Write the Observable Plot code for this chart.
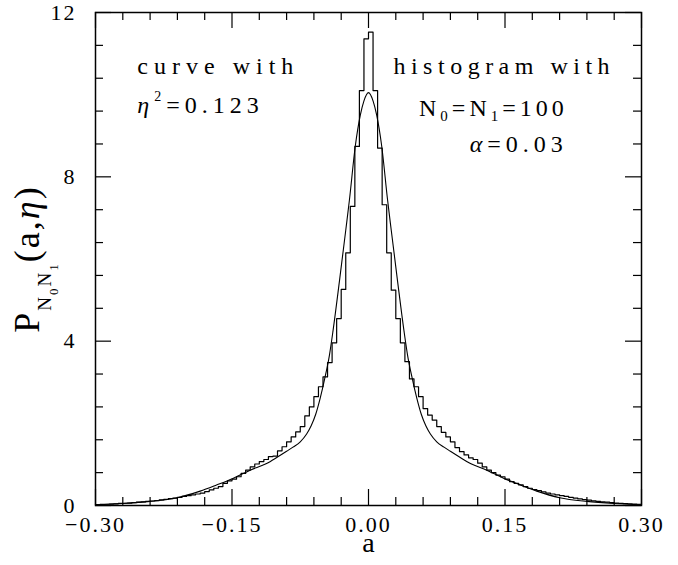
<!DOCTYPE html>
<html><head><meta charset="utf-8">
<script src="https://cdn.jsdelivr.net/npm/d3@7"></script>
<script src="https://cdn.jsdelivr.net/npm/@observablehq/plot@0.6"></script>
<style>body{margin:0;background:#fff;} svg{display:block;} svg text{font-family:"Liberation Serif",serif;}</style>
</head><body><div id="chart"></div>
<script>
// ---- data ----
const histStart = -0.30;
const histBinWidth = 0.005;
const histValues = [
  // -0.300 .. -0.190
  0.02,0.025,0.03,0.035,0.04,0.05,0.055,0.06,0.07,0.08,0.09,0.10,0.11,0.12,0.135,0.15,0.165,0.18,0.20,0.22,0.24,0.26,0.28,
  // -0.185 .. -0.005
  0.30,0.34,0.38,0.42,0.46,0.54,0.60,0.64,0.70,0.78,0.86,0.94,1.01,1.07,1.12,1.19,1.20,1.33,1.43,1.55,1.67,1.79,1.92,2.18,2.40,2.65,2.89,3.13,3.48,3.96,4.55,5.26,6.15,7.28,8.74,10.1,11.36,
  // 0.000 .. 0.175
  11.52,10.1,8.70,7.32,6.15,5.24,4.55,3.96,3.50,3.08,2.89,2.65,2.36,2.20,2.08,1.92,1.78,1.67,1.55,1.41,1.31,1.23,1.16,1.12,1.03,0.94,0.86,0.80,0.74,0.70,0.64,0.58,0.54,0.50,0.46,0.42,
  // 0.180 .. 0.295
  0.39,0.36,0.33,0.30,0.28,0.26,0.24,0.22,0.20,0.18,0.16,0.145,0.13,0.115,0.10,0.09,0.08,0.07,0.06,0.05,0.045,0.04,0.035,0.03
];
const curveA = [-0.30,-0.27,-0.24,-0.21,-0.185,-0.167,-0.149,-0.13,-0.112,-0.10,-0.09,-0.083,-0.075,-0.068,-0.063,-0.058,-0.053,-0.048,-0.043,-0.039,-0.032,-0.025,-0.021,-0.0145,-0.009,-0.005,0,
                0.005,0.009,0.0145,0.021,0.025,0.032,0.039,0.043,0.048,0.053,0.058,0.063,0.068,0.075,0.083,0.09,0.10,0.112,0.13,0.149,0.167,0.185,0.21,0.24,0.27,0.30];
const curveP = [0.02,0.05,0.10,0.19,0.35,0.50,0.66,0.86,1.02,1.18,1.32,1.42,1.55,1.74,1.94,2.22,2.62,3.10,3.65,4.25,5.45,6.70,7.43,8.75,9.50,9.85,10.05,
                9.85,9.50,8.75,7.43,6.70,5.45,4.25,3.65,3.10,2.62,2.22,1.94,1.74,1.55,1.42,1.32,1.18,1.02,0.86,0.66,0.50,0.35,0.19,0.10,0.05,0.02];
const xMajor = [-0.30,-0.15,0,0.15,0.30];
const xMajorLabels = ["\u22120.30","\u22120.15","0.00","0.15","0.30"];
const xMinor = [-0.27,-0.24,-0.21,-0.18,-0.12,-0.09,-0.06,-0.03,0.03,0.06,0.09,0.12,0.18,0.21,0.24,0.27];
const yMajor = [0,4,8,12];
const yMajorLabels = ["0","4","8","12"];
const yMinor = [0.8,1.6,2.4,3.2,4.8,5.6,6.4,7.2,8.8,9.6,10.4,11.2];
const xLabel = "a";
const yLabelKey = "YLABEL", etaKey = "ETA2", nKey = "N0N1", alphaKey = "ALPHA";

// ---- build ----
const W = 678, H = 565, mL = 95, mR = 37, mT = 12, mB = 60;
const fw = W - mL - mR, fh = H - mT - mB;
const FONT = "Liberation Serif";
const hist = histValues.map((p, i) => ({a: histStart + i * histBinWidth, p}));
hist.push({a: histStart + histValues.length * histBinWidth, p: histValues[histValues.length - 1]});
const curve = curveA.map((a, i) => ({a, p: curveP[i]}));

const svg = Plot.plot({
  width: W, height: H, marginLeft: mL, marginRight: mR, marginTop: mT, marginBottom: mB,
  style: {fontFamily: FONT, color: "black", background: "white"},
  x: {domain: [-0.3, 0.3], axis: null},
  y: {domain: [0, 12], axis: null},
  marks: [
    Plot.line(hist, {x: "a", y: "p", curve: "step-after", stroke: "black", strokeWidth: 1.2}),
    Plot.line(curve, {x: "a", y: "p", curve: "monotone-x", stroke: "black", strokeWidth: 1.1}),
    // ticks, inward, on all four sides
    Plot.tickX(xMajor, {x: d => d, insetTop: fh - 16, stroke: "black", strokeWidth: 1.2}),
    Plot.tickX(xMinor, {x: d => d, insetTop: fh - 8, stroke: "black", strokeWidth: 1.2}),
    Plot.tickX(xMajor, {x: d => d, insetBottom: fh - 16, stroke: "black", strokeWidth: 1.2}),
    Plot.tickX(xMinor, {x: d => d, insetBottom: fh - 8, stroke: "black", strokeWidth: 1.2}),
    Plot.tickY(yMajor, {y: d => d, insetRight: fw - 16, stroke: "black", strokeWidth: 1.2}),
    Plot.tickY(yMinor, {y: d => d, insetRight: fw - 8, stroke: "black", strokeWidth: 1.2}),
    Plot.tickY(yMajor, {y: d => d, insetLeft: fw - 16, stroke: "black", strokeWidth: 1.2}),
    Plot.tickY(yMinor, {y: d => d, insetLeft: fw - 8, stroke: "black", strokeWidth: 1.2}),
    Plot.frame({stroke: "black", strokeWidth: 1.5}),
    // tick labels
    Plot.text(xMajor, {x: d => d, text: (d, i) => xMajorLabels[i], frameAnchor: "bottom", dy: 26, fontSize: 22, fontFamily: FONT}),
    Plot.text(yMajor, {y: d => d, text: (d, i) => yMajorLabels[i], frameAnchor: "left", dx: -19, textAnchor: "end", fontSize: 22, fontFamily: FONT}),
    // axis labels
    Plot.text([xLabel], {text: d => d, frameAnchor: "bottom", textAnchor: "middle", dy: 46, fontSize: 28, fontFamily: FONT}),
    Plot.text([yLabelKey], {text: d => d, frameAnchor: "left", textAnchor: "middle", dx: -68, rotate: -90, fontSize: 36, fontFamily: FONT}),
    // annotations
    Plot.text(["curve with"], {x: -0.254, y: 10.69, text: d => d, textAnchor: "start", fontSize: 24, fontFamily: FONT}),
    Plot.text([etaKey], {x: -0.254, y: 9.74, text: d => d, textAnchor: "start", fontSize: 24, fontFamily: FONT}),
    Plot.text(["histogram with"], {x: 0.271, y: 10.69, text: d => d, textAnchor: "end", fontSize: 24, fontFamily: FONT}),
    Plot.text([nKey], {x: 0.219, y: 9.68, text: d => d, textAnchor: "end", fontSize: 24, fontFamily: FONT}),
    Plot.text([alphaKey], {x: 0.219, y: 8.79, text: d => d, textAnchor: "end", fontSize: 24, fontFamily: FONT})
  ]
});

const s = d3.select(svg);
s.attr("font-family", FONT);
const byText = str => s.selectAll("text").filter(function() { return this.textContent === str; });

xMajorLabels.concat(yMajorLabels).forEach(t => byText(t).attr("letter-spacing", 2));
byText("curve with").attr("letter-spacing", 6);
byText("histogram with").attr("letter-spacing", 5.5);

byText(etaKey).attr("letter-spacing", 5).text(null).call(t => {
  t.append("tspan").attr("font-style", "italic").text("\u03b7");
  t.append("tspan").attr("font-size", 14).attr("dy", -12).text("2");
  t.append("tspan").attr("dy", 12).text("=0.123");
});
byText(nKey).attr("letter-spacing", 4).text(null).call(t => {
  t.append("tspan").text("N");
  t.append("tspan").attr("font-size", 15).attr("dy", 6).text("0");
  t.append("tspan").attr("dy", -6).text("=N");
  t.append("tspan").attr("font-size", 15).attr("dy", 6).text("1");
  t.append("tspan").attr("dy", -6).text("=100");
});
byText(alphaKey).attr("letter-spacing", 5).text(null).call(t => {
  t.append("tspan").attr("font-style", "italic").text("\u03b1");
  t.append("tspan").text("=0.03");
});
byText(yLabelKey).attr("letter-spacing", 2).text(null).call(t => {
  t.append("tspan").text("P");
  t.append("tspan").attr("font-size", 19).attr("dy", 12).text("N");
  t.append("tspan").attr("font-size", 13).attr("dy", 7).text("0");
  t.append("tspan").attr("font-size", 19).attr("dy", -7).text("N");
  t.append("tspan").attr("font-size", 13).attr("dy", 7).text("1");
  t.append("tspan").attr("dy", -19).text("(a,");
  t.append("tspan").attr("font-style", "italic").text("\u03b7");
  t.append("tspan").text(")");
});

document.getElementById("chart").appendChild(svg);
</script>
</body></html>
